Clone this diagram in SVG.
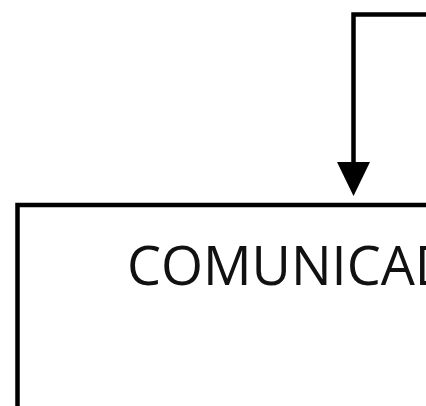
<svg xmlns="http://www.w3.org/2000/svg" width="426" height="406" viewBox="0 0 426 406">
<style>
.ln{fill:none;stroke:#000;stroke-width:4.5}
.lbl{font-family:"Open Sans","Liberation Sans",sans-serif;font-size:54px;fill:#111}
</style>
<rect width="426" height="406" fill="#fff"/>
<g id="connectors">
<polyline class="ln" points="430,14.5 353.5,14.5 353.5,168"/>
<polygon points="337,162 370,162 353.5,196" fill="#000"/>
</g>
<g id="node-comunicado">
<rect class="ln" x="17.5" y="205" width="430" height="230"/>
<text class="lbl" x="127" y="285">COMUNICAD</text>
</g>
</svg>
